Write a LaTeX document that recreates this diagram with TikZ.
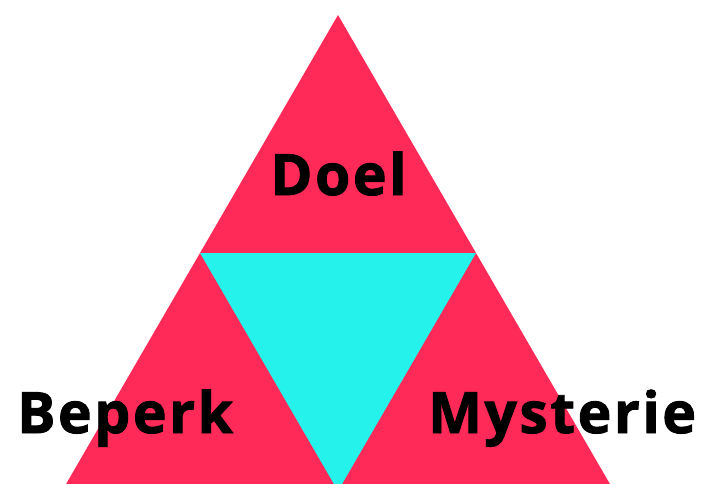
\documentclass[tikz,border=0pt]{standalone}
\usepackage{fontspec}
\setmainfont{Open Sans}[LetterSpace=4.5,BoldFeatures={FakeBold=1.6}]
\definecolor{tred}{HTML}{FF2A57}
\definecolor{tcyan}{HTML}{26F2EC}
\begin{document}
\begin{tikzpicture}[x=1pt,y=-1pt,
  lbl/.style={font=\bfseries\fontsize{57}{60}\selectfont, text=black, inner sep=0pt}]
\useasboundingbox (0,0) rectangle (703,483);
\clip (0,0) rectangle (703,483);
\fill[tred] (338,15) -- (62,491) -- (614,491) -- cycle;
\fill[tcyan] (200,253) -- (476,253) -- (338,491) -- cycle;
\node[lbl, anchor=base] (doel) at (338.5,195) {Doel};
\node[lbl, anchor=base west] (beperk) at (17,433) {Beperk};
\node[lbl, anchor=base west] (myst) at (428,433) {Mysterie};
\end{tikzpicture}
\end{document}
